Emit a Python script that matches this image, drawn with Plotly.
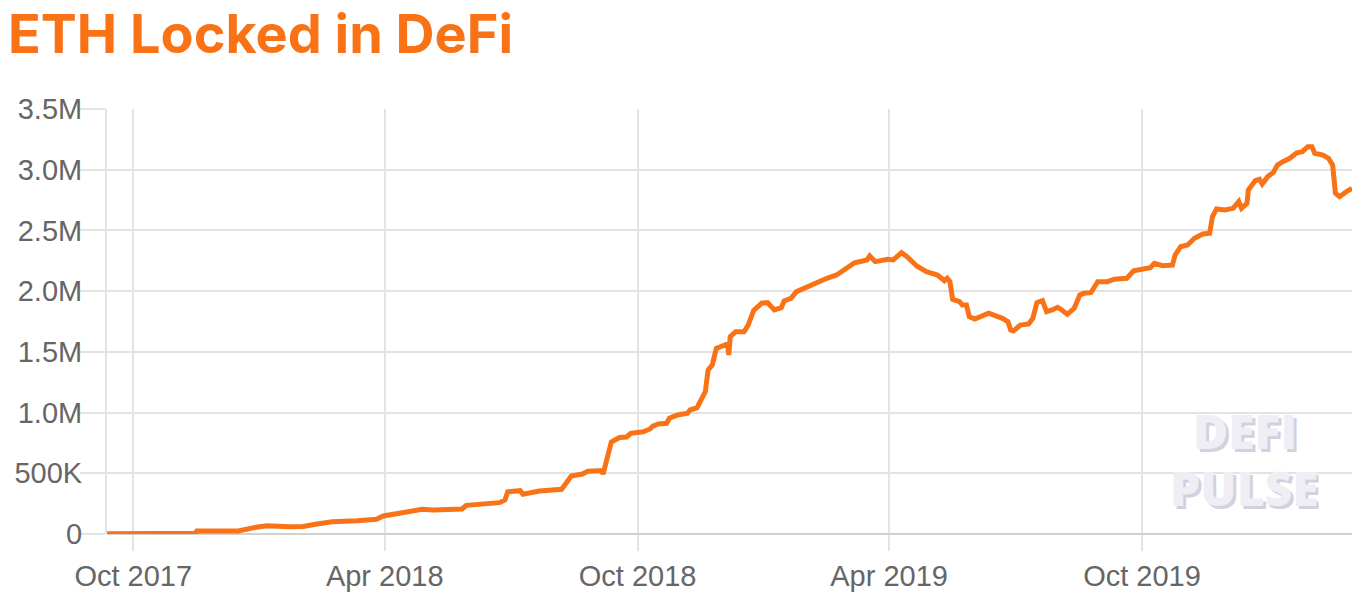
import plotly.graph_objects as go

title_text = "ETH Locked in DeFi"
watermark_lines = ["DEFI", "PULSE"]

dates = [
    "2017-09-12", "2017-09-25", "2017-10-05", "2017-10-13", "2017-10-25", "2017-11-05", "2017-11-15", "2017-11-16",
    "2017-12-01", "2017-12-16", "2017-12-30",
    "2018-01-06", "2018-01-22", "2018-02-01", "2018-02-11", "2018-02-22", "2018-03-12", "2018-03-26", "2018-03-31",
    "2018-04-14", "2018-04-28", "2018-05-06", "2018-05-23", "2018-05-27", "2018-05-30",
    "2018-06-11", "2018-06-23", "2018-06-27", "2018-06-29", "2018-07-08", "2018-07-10", "2018-07-22",
    "2018-08-07", "2018-08-14", "2018-08-22", "2018-08-26", "2018-09-05", "2018-09-06", "2018-09-12", "2018-09-18",
    "2018-09-23", "2018-09-26", "2018-10-05", "2018-10-10", "2018-10-12", "2018-10-16", "2018-10-22", "2018-10-24",
    "2018-10-30", "2018-11-06", "2018-11-08", "2018-11-13", "2018-11-17", "2018-11-19", "2018-11-21", "2018-11-24",
    "2018-11-27", "2018-12-05", "2018-12-06", "2018-12-07", "2018-12-11", "2018-12-17", "2018-12-20", "2018-12-24",
    "2018-12-30", "2019-01-03", "2019-01-08", "2019-01-13", "2019-01-15", "2019-01-20", "2019-01-24",
    "2019-02-01", "2019-02-08", "2019-02-15", "2019-02-22", "2019-03-01", "2019-03-07", "2019-03-16", "2019-03-18",
    "2019-03-22", "2019-03-31", "2019-04-04", "2019-04-10", "2019-04-14", "2019-04-21", "2019-04-28",
    "2019-05-06", "2019-05-11", "2019-05-13", "2019-05-15", "2019-05-17", "2019-05-22", "2019-05-24", "2019-05-27",
    "2019-05-29", "2019-06-02", "2019-06-12", "2019-06-22", "2019-06-26", "2019-06-28", "2019-06-30",
    "2019-07-05", "2019-07-11", "2019-07-14", "2019-07-17", "2019-07-21", "2019-07-24", "2019-07-28",
    "2019-08-01", "2019-08-04", "2019-08-08", "2019-08-11", "2019-08-13", "2019-08-17", "2019-08-20", "2019-08-25",
    "2019-08-30", "2019-09-06", "2019-09-11", "2019-09-20", "2019-09-25",
    "2019-10-07", "2019-10-10", "2019-10-16", "2019-10-23", "2019-10-25", "2019-10-29",
    "2019-11-03", "2019-11-08", "2019-11-14", "2019-11-19", "2019-11-21", "2019-11-24", "2019-11-30",
    "2019-12-06", "2019-12-10", "2019-12-12", "2019-12-16", "2019-12-17", "2019-12-22", "2019-12-25", "2019-12-27",
    "2019-12-31", "2020-01-04", "2020-01-07", "2020-01-11", "2020-01-16", "2020-01-21", "2020-01-25", "2020-01-29",
    "2020-02-01", "2020-02-03", "2020-02-09", "2020-02-13", "2020-02-16", "2020-02-18", "2020-02-21", "2020-02-26",
    "2020-03-01",
]

eth_locked = [
    3000, 4000, 6000, 3000, 5000, 4000, 7000, 25000,
    27000, 25000, 58000,
    68000, 60000, 62000, 82000, 101000, 110000, 121000, 148000,
    175000, 203000, 198000, 212000, 206000, 236000,
    245000, 258000, 280000, 348000, 357000, 327000, 354000,
    368000, 478000, 494000, 516000, 523000, 494000, 758000, 795000,
    799000, 829000, 842000, 865000, 889000, 906000, 912000, 953000,
    980000, 994000, 1021000, 1040000, 1145000, 1172000, 1351000, 1392000,
    1529000, 1565000, 1474000, 1625000, 1666000, 1666000, 1721000, 1841000,
    1902000, 1905000, 1845000, 1864000, 1919000, 1941000, 1996000,
    2037000, 2078000, 2106000, 2133000, 2188000, 2234000, 2257000, 2290000,
    2243000, 2262000, 2257000, 2317000, 2284000, 2207000, 2160000,
    2133000, 2086000, 2106000, 2078000, 1933000, 1913000, 1886000, 1886000,
    1790000, 1771000, 1818000, 1776000, 1748000, 1680000, 1672000,
    1721000, 1730000, 1776000, 1905000, 1921000, 1831000, 1845000,
    1867000, 1845000, 1809000, 1839000, 1859000, 1968000, 1982000, 1987000,
    2078000, 2078000, 2098000, 2106000, 2168000,
    2193000, 2229000, 2210000, 2215000, 2298000, 2366000,
    2380000, 2435000, 2471000, 2477000, 2613000, 2677000, 2668000,
    2682000, 2737000, 2682000, 2724000, 2833000, 2910000, 2921000, 2883000,
    2943000, 2976000, 3039000, 3066000, 3094000, 3140000, 3149000, 3190000,
    3190000, 3135000, 3121000, 3094000, 3039000, 2806000, 2778000, 2819000,
    2847000,
]

n = min(len(dates), len(eth_locked))
dates = dates[:n]
eth_locked = eth_locked[:n]

y_tickvals = [0, 500000, 1000000, 1500000, 2000000, 2500000, 3000000, 3500000]
y_ticktext = ["0", "500K", "1.0M", "1.5M", "2.0M", "2.5M", "3.0M", "3.5M"]
x_tickvals = ["2017-10-01", "2018-04-01", "2018-10-01", "2019-04-01", "2019-10-01"]
x_ticktext = ["Oct 2017", "Apr 2018", "Oct 2018", "Apr 2019", "Oct 2019"]

ORANGE = "#F97316"
GRID = "#e3e3e3"
YFONT = dict(family="Liberation Sans, Arial, sans-serif", size=29, color="#666666")
XFONT = dict(family="Liberation Sans, Arial, sans-serif", size=29, color="#666666")

fig = go.Figure()
fig.add_trace(go.Scatter(
    x=dates, y=eth_locked, mode="lines",
    line=dict(color=ORANGE, width=5),
    hoverinfo="skip", showlegend=False,
))

fig.update_layout(
    width=1365, height=599,
    margin=dict(l=99, r=21, t=101, b=73, autoexpand=False),
    paper_bgcolor="white", plot_bgcolor="white",
    title=dict(
        text=title_text,
        font=dict(family="Inter, Roboto, sans-serif", size=54, color=ORANGE, weight=700),
        x=0, xanchor="left", xref="container",
        y=1 - 26 / 599, yanchor="middle", yref="container",
    ),
    xaxis=dict(
        type="date", automargin=False,
        range=[dates[0], dates[-1]],
        tickvals=x_tickvals, ticktext=x_ticktext,
        tickfont=XFONT,
        showgrid=True, gridcolor=GRID, gridwidth=2,
        ticks="outside", ticklen=16, tickwidth=2, tickcolor=GRID,
        showline=False, zeroline=False,
    ),
    yaxis=dict(
        automargin=False,
        range=[0, 3500000],
        tickvals=y_tickvals, ticktext=y_ticktext,
        tickfont=YFONT,
        showgrid=True, gridcolor=GRID, gridwidth=2,
        ticks="outside", ticklen=25, tickwidth=2, tickcolor=GRID,
        ticklabelstandoff=-8,
        showline=True, linecolor=GRID, linewidth=2,
        zeroline=True, zerolinecolor="#d0d0d0", zerolinewidth=2,
    ),
)

# watermark, one line per annotation
for txt, ypos in zip(watermark_lines, [0.245, 0.11]):
    fig.add_annotation(
        text=txt, xref="paper", yref="paper",
        x=0.914, y=ypos, xanchor="center", yanchor="middle",
        height=46, valign="middle",
        showarrow=False, align="center",
        font=dict(family="Open Sans, sans-serif", size=48, color="#efeef4", weight=800,
                  shadow="3px 3px 0px #d3d1e0"),
    )

fig.write_html("out.html")
